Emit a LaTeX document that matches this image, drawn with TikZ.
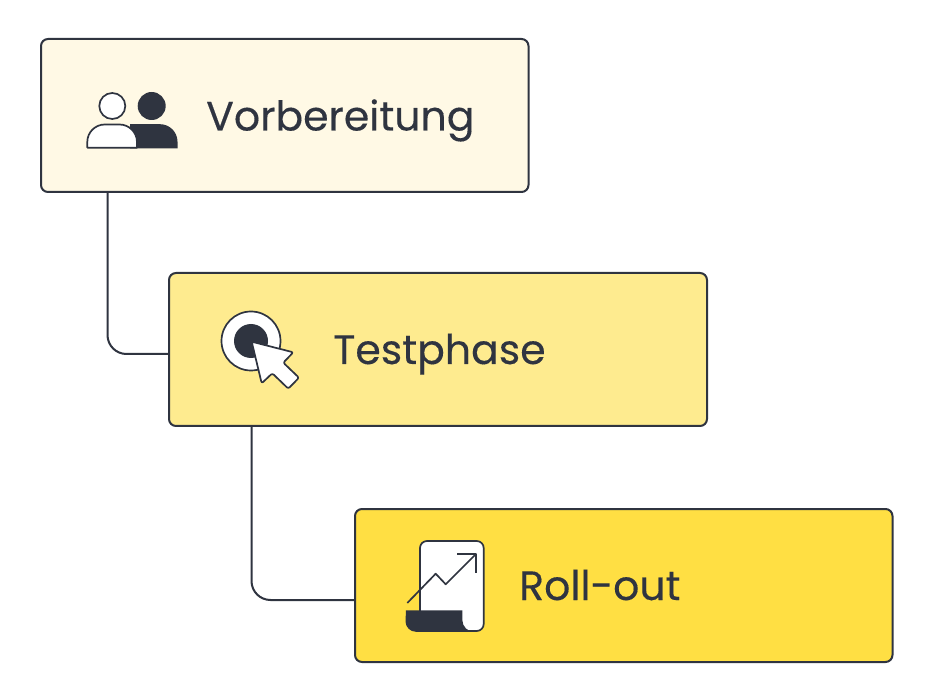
\documentclass[tikz,border=0pt]{standalone}
\usepackage{fontspec}
\setmainfont{Poppins}[FakeBold=0.25]
\usetikzlibrary{calc}
\definecolor{ink}{HTML}{2F3440}
\definecolor{paleyellow}{HTML}{FFF9E5}
\definecolor{midyellow}{HTML}{FEEB8F}
\definecolor{fullyellow}{HTML}{FFDF43}
\tikzset{
  stage/.style={draw=ink, line width=2pt, rounded corners=7pt, minimum height=153pt, inner sep=0pt},
  label/.style={anchor=base west, inner sep=0pt, text=ink, font=\fontsize{41}{48}\selectfont},
  link/.style={draw=ink, line width=2pt, rounded corners=19pt},
  iconline/.style={draw=ink, line width=1.7pt, line join=round},
  iconfill/.style={fill=ink},
}
\begin{document}
\begin{tikzpicture}[x=1pt, y=-1pt]
\useasboundingbox (0,0) rectangle (932,700);
% stages
\node[stage, fill=paleyellow, minimum width=487.5pt] (prep) at (284.75,115.5) {};
\node[stage, fill=midyellow, minimum width=538pt] (test) at (438,349.5) {};
\node[stage, fill=fullyellow, minimum width=537.5pt] (roll) at (623.75,585.5) {};
\node[label] (preptext) at (206,130.5) {Vorbereitung};
\node[label] (testtext) at (333,364) {Testphase};
\node[label] (rolltext) at (519,600) {Roll-out};
% connectors
\draw[link] ($(prep.south west)+(67.5,0)$) |- ($(test.west)+(0,4.5)$);
\draw[link] ($(test.south west)+(83.5,0)$) |- ($(roll.west)+(0,14.5)$);
% people
\fill[iconfill] (151.7,106) circle (14);
\fill[iconfill] (130,148.5) -- (130,124.2) -- (160,124.2) arc (270:360:17.5) -- (177.5,148.5) -- cycle;
\draw[iconline, fill=white] (112.3,106) circle (13);
\draw[iconline, fill=white] (87.3,147.7) -- (87.3,142) arc (180:270:17.5) -- (119.5,124.5) arc (270:360:17.5) -- (137,147.7) -- cycle;
% cursor
\draw[iconline, fill=white] (251,341) circle (29.5);
\fill[iconfill] (251,341) circle (17);
\draw[iconline, fill=white, rounded corners=2pt] (251.7,341.7) -- (293.3,352.3) -- (283.3,362.7) -- (299,377.7) -- (288.3,388.7) -- (272.3,373.3) -- (261.7,383.3) -- cycle;
% chart
\draw[iconline, fill=white, rounded corners=7pt] (420,631) -- (420,541) -- (483.7,541) -- (483.7,631) -- cycle;
\fill[iconfill] (406,610.3) -- (462.3,610.3) -- (462.3,620) arc (180:90:11.8) -- (416,631.8) arc (90:180:10.5) -- cycle;
\draw[iconline] (407.3,603) -- (435.7,573.7) -- (445.7,584.3) -- (476,554);
\draw[iconline] (457.3,554) -- (476,554) -- (476,572.7);
\end{tikzpicture}
\end{document}
